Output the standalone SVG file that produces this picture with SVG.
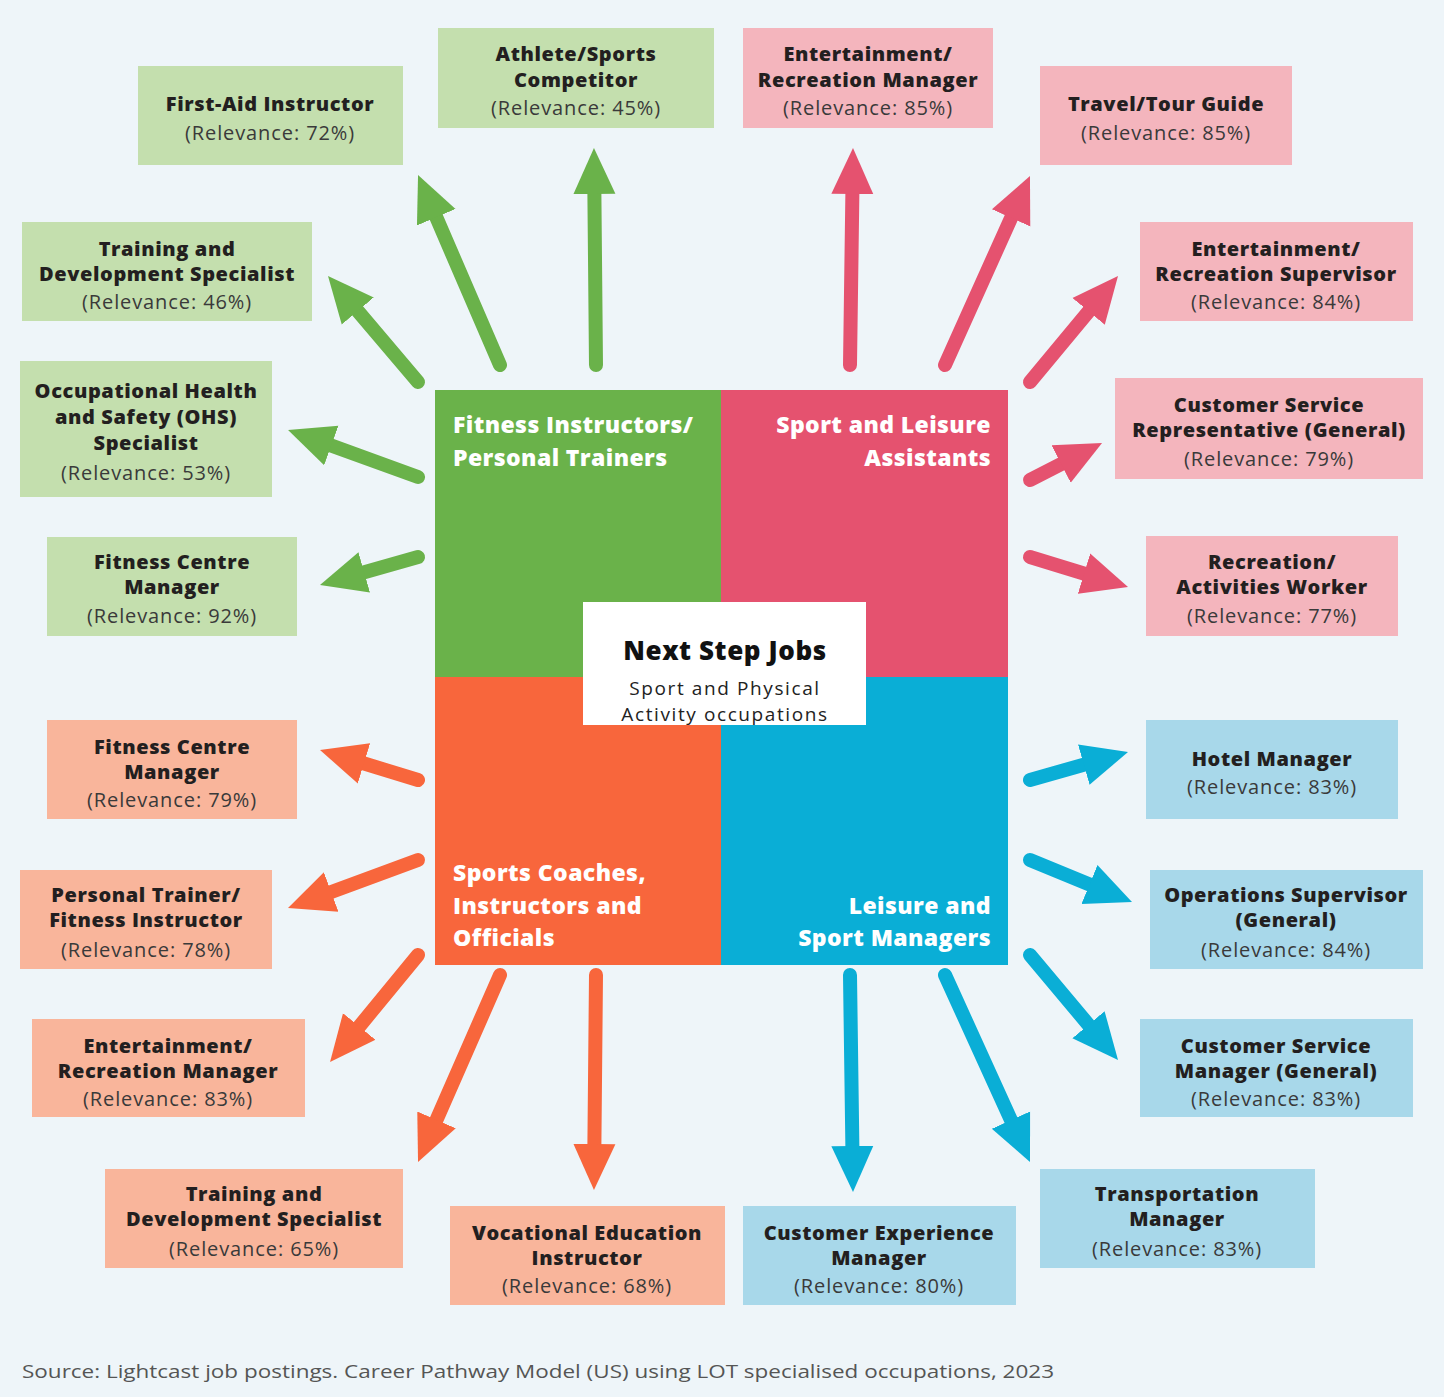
<svg xmlns="http://www.w3.org/2000/svg" width="1444" height="1397" viewBox="0 0 1444 1397">
<style>
.t{font-family:"Open Sans","Liberation Sans",sans-serif;font-weight:800;font-size:20px;letter-spacing:0.6px;fill:#231f20;text-anchor:middle}
.r{font-family:"Open Sans","Liberation Sans",sans-serif;font-weight:400;font-size:20px;letter-spacing:0.9px;fill:#3a3a3a;text-anchor:middle}
.q{font-family:"Open Sans","Liberation Sans",sans-serif;font-weight:800;font-size:23px;letter-spacing:0.4px;fill:#ffffff}
.c{font-family:"Open Sans","Liberation Sans",sans-serif;font-weight:400;font-size:19px;letter-spacing:1.6px;fill:#222;text-anchor:middle}
.g{fill:#c4dfae}.p{fill:#f4b5bd}.o{fill:#f9b59b}.b{fill:#a8d8ea}
.ag{stroke:#6ab24a}.ap{stroke:#e5526f}.ao{stroke:#f8663c}.ab{stroke:#0aaed6}
.a{stroke-width:14;stroke-linecap:round;fill:none}
</style>
<defs>
<marker id="mg" markerUnits="userSpaceOnUse" viewBox="0 -22 46 44" markerWidth="46" markerHeight="44" refX="10" refY="0" orient="auto"><path d="M0,-21 L46,0 L0,21 Z" fill="#6ab24a"/></marker>
<marker id="mp" markerUnits="userSpaceOnUse" viewBox="0 -22 46 44" markerWidth="46" markerHeight="44" refX="10" refY="0" orient="auto"><path d="M0,-21 L46,0 L0,21 Z" fill="#e5526f"/></marker>
<marker id="mo" markerUnits="userSpaceOnUse" viewBox="0 -22 46 44" markerWidth="46" markerHeight="44" refX="10" refY="0" orient="auto"><path d="M0,-21 L46,0 L0,21 Z" fill="#f8663c"/></marker>
<marker id="mb" markerUnits="userSpaceOnUse" viewBox="0 -22 46 44" markerWidth="46" markerHeight="44" refX="10" refY="0" orient="auto"><path d="M0,-21 L46,0 L0,21 Z" fill="#0aaed6"/></marker>
</defs>
<rect width="1444" height="1397" fill="#eef5f9"/>

<g id="center">
<rect x="435" y="390" width="287" height="288" fill="#6ab24a"/>
<rect x="721" y="390" width="287" height="288" fill="#e5526f"/>
<rect x="435" y="677" width="287" height="288" fill="#f8663c"/>
<rect x="721" y="677" width="287" height="288" fill="#0aaed6"/>
<text class="q" x="453" y="433">Fitness Instructors/</text>
<text class="q" x="453" y="466">Personal Trainers</text>
<text class="q" x="991" y="433" text-anchor="end">Sport and Leisure</text>
<text class="q" x="991" y="466" text-anchor="end">Assistants</text>
<text class="q" x="453" y="881">Sports Coaches,</text>
<text class="q" x="453" y="914">Instructors and</text>
<text class="q" x="453" y="946">Officials</text>
<text class="q" x="991" y="914" text-anchor="end">Leisure and</text>
<text class="q" x="991" y="946" text-anchor="end">Sport Managers</text>
<rect x="583" y="602" width="283" height="123" fill="#ffffff"/>
<text class="t" x="725" y="660" style="font-size:26px;fill:#111">Next Step Jobs</text>
<text class="c" x="725" y="695">Sport and Physical</text>
<text class="c" x="725" y="721">Activity occupations</text>
</g>

<g id="connectors">
<line class="a ag" x1="596" y1="365" x2="594.3" y2="184" marker-end="url(#mg)"/>
<line class="a ag" x1="500" y1="365" x2="432.3" y2="208.1" marker-end="url(#mg)"/>
<line class="a ag" x1="418" y1="382" x2="351.3" y2="303.4" marker-end="url(#mg)"/>
<line class="a ag" x1="418" y1="477" x2="321.9" y2="442.2" marker-end="url(#mg)"/>
<line class="a ag" x1="418" y1="557" x2="354.6" y2="575.1" marker-end="url(#mg)"/>
<line class="a ap" x1="850" y1="365" x2="852.5" y2="184" marker-end="url(#mp)"/>
<line class="a ap" x1="945" y1="365" x2="1015.2" y2="208.8" marker-end="url(#mp)"/>
<line class="a ap" x1="1030" y1="382" x2="1095" y2="303.7" marker-end="url(#mp)"/>
<line class="a ap" x1="1030" y1="480" x2="1070" y2="459.5" marker-end="url(#mp)"/>
<line class="a ap" x1="1030" y1="557" x2="1093.6" y2="576.5" marker-end="url(#mp)"/>
<line class="a ao" x1="418" y1="780" x2="354.4" y2="760.5" marker-end="url(#mo)"/>
<line class="a ao" x1="418" y1="860" x2="321.8" y2="895.5" marker-end="url(#mo)"/>
<line class="a ao" x1="418" y1="955" x2="352.9" y2="1034.2" marker-end="url(#mo)"/>
<line class="a ao" x1="500" y1="975" x2="432.5" y2="1129" marker-end="url(#mo)"/>
<line class="a ao" x1="596" y1="975" x2="594.3" y2="1154" marker-end="url(#mo)"/>
<line class="a ab" x1="1030" y1="780" x2="1093.4" y2="761.9" marker-end="url(#mb)"/>
<line class="a ab" x1="1030" y1="860" x2="1098.7" y2="888.3" marker-end="url(#mb)"/>
<line class="a ab" x1="1030" y1="955" x2="1094.9" y2="1032.4" marker-end="url(#mb)"/>
<line class="a ab" x1="945" y1="975" x2="1015.1" y2="1129.2" marker-end="url(#mb)"/>
<line class="a ab" x1="850" y1="975" x2="852.5" y2="1156" marker-end="url(#mb)"/>
</g>

<g id="g1"><rect class="g" x="138" y="66" width="265" height="99"/><text class="t" x="270" y="111">First-Aid Instructor</text><text class="r" x="270" y="140">(Relevance: 72%)</text></g>
<g id="g2"><rect class="g" x="438" y="28" width="276" height="100"/><text class="t" x="576" y="61">Athlete/Sports</text><text class="t" x="576" y="87">Competitor</text><text class="r" x="576" y="115">(Relevance: 45%)</text></g>
<g id="g3"><rect class="g" x="22" y="222" width="290" height="99"/><text class="t" x="167" y="256">Training and</text><text class="t" x="167" y="281">Development Specialist</text><text class="r" x="167" y="309">(Relevance: 46%)</text></g>
<g id="g4"><rect class="g" x="20" y="361" width="252" height="136"/><text class="t" x="146" y="398">Occupational Health</text><text class="t" x="146" y="424">and Safety (OHS)</text><text class="t" x="146" y="450">Specialist</text><text class="r" x="146" y="480">(Relevance: 53%)</text></g>
<g id="g5"><rect class="g" x="47" y="537" width="250" height="99"/><text class="t" x="172" y="569">Fitness Centre</text><text class="t" x="172" y="594">Manager</text><text class="r" x="172" y="623">(Relevance: 92%)</text></g>

<g id="p1"><rect class="p" x="743" y="28" width="250" height="100"/><text class="t" x="868" y="61">Entertainment/</text><text class="t" x="868" y="87">Recreation Manager</text><text class="r" x="868" y="115">(Relevance: 85%)</text></g>
<g id="p2"><rect class="p" x="1040" y="66" width="252" height="99"/><text class="t" x="1166" y="111">Travel/Tour Guide</text><text class="r" x="1166" y="140">(Relevance: 85%)</text></g>
<g id="p3"><rect class="p" x="1140" y="222" width="273" height="99"/><text class="t" x="1276" y="256">Entertainment/</text><text class="t" x="1276" y="281">Recreation Supervisor</text><text class="r" x="1276" y="309">(Relevance: 84%)</text></g>
<g id="p4"><rect class="p" x="1115" y="378" width="308" height="101"/><text class="t" x="1269" y="412">Customer Service</text><text class="t" x="1269" y="437">Representative (General)</text><text class="r" x="1269" y="466">(Relevance: 79%)</text></g>
<g id="p5"><rect class="p" x="1146" y="536" width="252" height="100"/><text class="t" x="1272" y="569">Recreation/</text><text class="t" x="1272" y="594">Activities Worker</text><text class="r" x="1272" y="623">(Relevance: 77%)</text></g>

<g id="o1"><rect class="o" x="47" y="720" width="250" height="99"/><text class="t" x="172" y="754">Fitness Centre</text><text class="t" x="172" y="779">Manager</text><text class="r" x="172" y="807">(Relevance: 79%)</text></g>
<g id="o2"><rect class="o" x="20" y="870" width="252" height="99"/><text class="t" x="146" y="902">Personal Trainer/</text><text class="t" x="146" y="927">Fitness Instructor</text><text class="r" x="146" y="957">(Relevance: 78%)</text></g>
<g id="o3"><rect class="o" x="32" y="1019" width="273" height="98"/><text class="t" x="168" y="1053">Entertainment/</text><text class="t" x="168" y="1078">Recreation Manager</text><text class="r" x="168" y="1106">(Relevance: 83%)</text></g>
<g id="o4"><rect class="o" x="105" y="1169" width="298" height="99"/><text class="t" x="254" y="1201">Training and</text><text class="t" x="254" y="1226">Development Specialist</text><text class="r" x="254" y="1256">(Relevance: 65%)</text></g>
<g id="o5"><rect class="o" x="450" y="1206" width="275" height="99"/><text class="t" x="587" y="1240">Vocational Education</text><text class="t" x="587" y="1265">Instructor</text><text class="r" x="587" y="1293">(Relevance: 68%)</text></g>

<g id="b1"><rect class="b" x="1146" y="720" width="252" height="99"/><text class="t" x="1272" y="766">Hotel Manager</text><text class="r" x="1272" y="794">(Relevance: 83%)</text></g>
<g id="b2"><rect class="b" x="1150" y="870" width="273" height="99"/><text class="t" x="1286" y="902">Operations Supervisor</text><text class="t" x="1286" y="927">(General)</text><text class="r" x="1286" y="957">(Relevance: 84%)</text></g>
<g id="b3"><rect class="b" x="1140" y="1019" width="273" height="98"/><text class="t" x="1276" y="1053">Customer Service</text><text class="t" x="1276" y="1078">Manager (General)</text><text class="r" x="1276" y="1106">(Relevance: 83%)</text></g>
<g id="b4"><rect class="b" x="1040" y="1169" width="275" height="99"/><text class="t" x="1177" y="1201">Transportation</text><text class="t" x="1177" y="1226">Manager</text><text class="r" x="1177" y="1256">(Relevance: 83%)</text></g>
<g id="b5"><rect class="b" x="743" y="1206" width="273" height="99"/><text class="t" x="879" y="1240">Customer Experience</text><text class="t" x="879" y="1265">Manager</text><text class="r" x="879" y="1293">(Relevance: 80%)</text></g>

<text x="22" y="1378" font-family="'Open Sans','Liberation Sans',sans-serif" font-size="19" fill="#555" textLength="1032" lengthAdjust="spacingAndGlyphs">Source:  Lightcast job postings. Career Pathway Model (US) using LOT specialised occupations, 2023</text>
</svg>
